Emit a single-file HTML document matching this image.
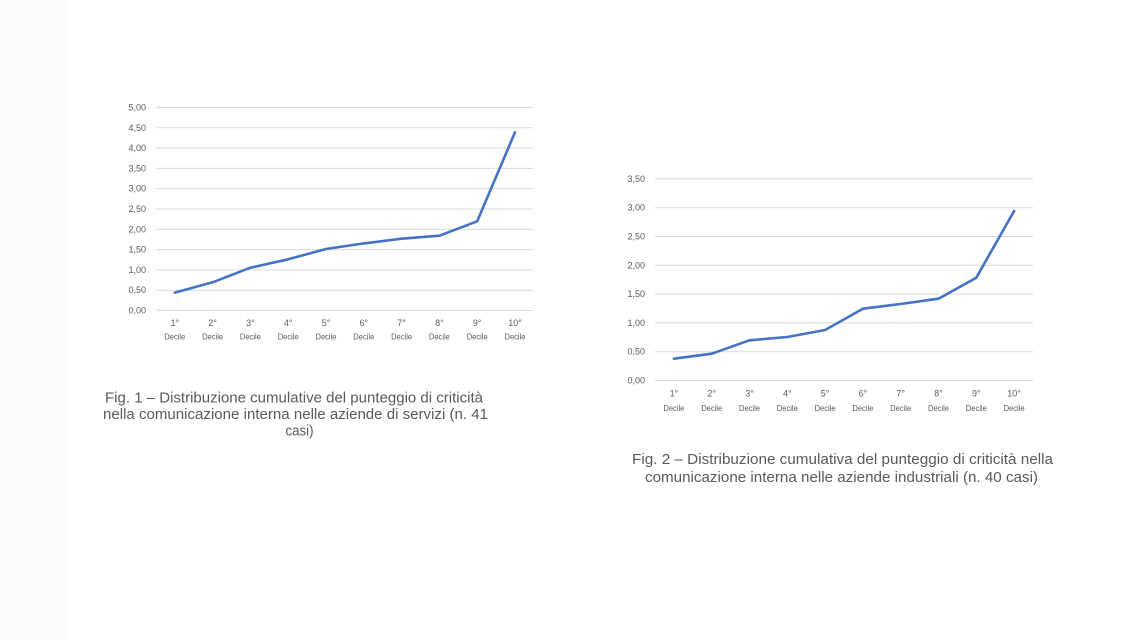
<!DOCTYPE html>
<html>
<head>
<meta charset="utf-8">
<style>
html,body{margin:0;padding:0;background:#fff;}
svg{display:block;}
text{font-family:"Liberation Sans",Arial,sans-serif;fill:#595959;}
.t{font-size:9px;}
.d{font-size:8.2px;}
.c{font-size:14.5px;}
</style>
</head>
<body>
<svg width="1138" height="640" viewBox="0 0 1138 640" xmlns="http://www.w3.org/2000/svg">
<rect x="0" y="0" width="1138" height="640" fill="#ffffff"/>
<rect x="0" y="0" width="68" height="640" fill="#fcfcfc"/>

<!-- Chart 1 -->
<g stroke="#d9d9d9" stroke-width="1">
<line x1="156" y1="107.5" x2="533" y2="107.5"/>
<line x1="156" y1="127.8" x2="533" y2="127.8"/>
<line x1="156" y1="148.1" x2="533" y2="148.1"/>
<line x1="156" y1="168.4" x2="533" y2="168.4"/>
<line x1="156" y1="188.7" x2="533" y2="188.7"/>
<line x1="156" y1="209" x2="533" y2="209"/>
<line x1="156" y1="229.3" x2="533" y2="229.3"/>
<line x1="156" y1="249.6" x2="533" y2="249.6"/>
<line x1="156" y1="269.9" x2="533" y2="269.9"/>
<line x1="156" y1="290.2" x2="533" y2="290.2"/>
<line x1="156" y1="310.5" x2="533" y2="310.5"/>
</g>
<g class="t" text-anchor="end">
<text x="146" y="110.5">5,00</text>
<text x="146" y="130.8">4,50</text>
<text x="146" y="151.1">4,00</text>
<text x="146" y="171.4">3,50</text>
<text x="146" y="191.7">3,00</text>
<text x="146" y="212">2,50</text>
<text x="146" y="232.3">2,00</text>
<text x="146" y="252.6">1,50</text>
<text x="146" y="272.9">1,00</text>
<text x="146" y="293.2">0,50</text>
<text x="146" y="313.5">0,00</text>
</g>
<polyline fill="none" stroke="#4472c4" stroke-width="2.6" stroke-linejoin="round" stroke-linecap="round"
 points="174.8,292.6 212.6,282.3 250.4,267.7 288.2,259.3 326,249 363.8,243.4 401.6,238.7 439.4,235.7 477.2,221.3 515,132.3"/>
<g class="t" text-anchor="middle">
<text x="174.8" y="326">1°</text>
<text x="212.6" y="326">2°</text>
<text x="250.4" y="326">3°</text>
<text x="288.2" y="326">4°</text>
<text x="326" y="326">5°</text>
<text x="363.8" y="326">6°</text>
<text x="401.6" y="326">7°</text>
<text x="439.4" y="326">8°</text>
<text x="477.2" y="326">9°</text>
<text x="515" y="326">10°</text>
</g>
<g class="d" text-anchor="middle">
<text x="174.8" y="339.5" textLength="21" lengthAdjust="spacingAndGlyphs">Decile</text>
<text x="212.6" y="339.5" textLength="21" lengthAdjust="spacingAndGlyphs">Decile</text>
<text x="250.4" y="339.5" textLength="21" lengthAdjust="spacingAndGlyphs">Decile</text>
<text x="288.2" y="339.5" textLength="21" lengthAdjust="spacingAndGlyphs">Decile</text>
<text x="326" y="339.5" textLength="21" lengthAdjust="spacingAndGlyphs">Decile</text>
<text x="363.8" y="339.5" textLength="21" lengthAdjust="spacingAndGlyphs">Decile</text>
<text x="401.6" y="339.5" textLength="21" lengthAdjust="spacingAndGlyphs">Decile</text>
<text x="439.4" y="339.5" textLength="21" lengthAdjust="spacingAndGlyphs">Decile</text>
<text x="477.2" y="339.5" textLength="21" lengthAdjust="spacingAndGlyphs">Decile</text>
<text x="515" y="339.5" textLength="21" lengthAdjust="spacingAndGlyphs">Decile</text>
</g>
<g class="c" text-anchor="middle">
<text x="294" y="402.5" textLength="378" lengthAdjust="spacingAndGlyphs">Fig. 1 – Distribuzione cumulative del punteggio di criticità</text>
<text x="295.5" y="419" textLength="385" lengthAdjust="spacingAndGlyphs">nella comunicazione interna nelle aziende di servizi (n. 41</text>
<text x="299.5" y="435.5" textLength="28" lengthAdjust="spacingAndGlyphs">casi)</text>
</g>

<!-- Chart 2 -->
<g stroke="#d9d9d9" stroke-width="1">
<line x1="655" y1="178.9" x2="1033" y2="178.9"/>
<line x1="655" y1="207.7" x2="1033" y2="207.7"/>
<line x1="655" y1="236.5" x2="1033" y2="236.5"/>
<line x1="655" y1="265.3" x2="1033" y2="265.3"/>
<line x1="655" y1="294.1" x2="1033" y2="294.1"/>
<line x1="655" y1="322.9" x2="1033" y2="322.9"/>
<line x1="655" y1="351.7" x2="1033" y2="351.7"/>
<line x1="655" y1="380.5" x2="1033" y2="380.5"/>
</g>
<g class="t" text-anchor="end">
<text x="645" y="181.9">3,50</text>
<text x="645" y="210.7">3,00</text>
<text x="645" y="239.5">2,50</text>
<text x="645" y="268.3">2,00</text>
<text x="645" y="297.1">1,50</text>
<text x="645" y="325.9">1,00</text>
<text x="645" y="354.7">0,50</text>
<text x="645" y="383.5">0,00</text>
</g>
<polyline fill="none" stroke="#4472c4" stroke-width="2.6" stroke-linejoin="round" stroke-linecap="round"
 points="673.9,358.7 711.7,353.7 749.5,340.3 787.3,337 825.1,330 862.9,308.7 900.7,304 938.5,298.7 976.3,277.7 1014.1,211"/>
<g class="t" text-anchor="middle">
<text x="673.9" y="396.5">1°</text>
<text x="711.7" y="396.5">2°</text>
<text x="749.5" y="396.5">3°</text>
<text x="787.3" y="396.5">4°</text>
<text x="825.1" y="396.5">5°</text>
<text x="862.9" y="396.5">6°</text>
<text x="900.7" y="396.5">7°</text>
<text x="938.5" y="396.5">8°</text>
<text x="976.3" y="396.5">9°</text>
<text x="1014.1" y="396.5">10°</text>
</g>
<g class="d" text-anchor="middle">
<text x="673.9" y="411" textLength="21" lengthAdjust="spacingAndGlyphs">Decile</text>
<text x="711.7" y="411" textLength="21" lengthAdjust="spacingAndGlyphs">Decile</text>
<text x="749.5" y="411" textLength="21" lengthAdjust="spacingAndGlyphs">Decile</text>
<text x="787.3" y="411" textLength="21" lengthAdjust="spacingAndGlyphs">Decile</text>
<text x="825.1" y="411" textLength="21" lengthAdjust="spacingAndGlyphs">Decile</text>
<text x="862.9" y="411" textLength="21" lengthAdjust="spacingAndGlyphs">Decile</text>
<text x="900.7" y="411" textLength="21" lengthAdjust="spacingAndGlyphs">Decile</text>
<text x="938.5" y="411" textLength="21" lengthAdjust="spacingAndGlyphs">Decile</text>
<text x="976.3" y="411" textLength="21" lengthAdjust="spacingAndGlyphs">Decile</text>
<text x="1014.1" y="411" textLength="21" lengthAdjust="spacingAndGlyphs">Decile</text>
</g>
<g class="c" text-anchor="middle">
<text x="842.5" y="464" textLength="421" lengthAdjust="spacingAndGlyphs">Fig. 2 – Distribuzione cumulativa del punteggio di criticità nella</text>
<text x="841.5" y="482" textLength="393" lengthAdjust="spacingAndGlyphs">comunicazione interna nelle aziende industriali (n. 40 casi)</text>
</g>
</svg>
</body>
</html>
